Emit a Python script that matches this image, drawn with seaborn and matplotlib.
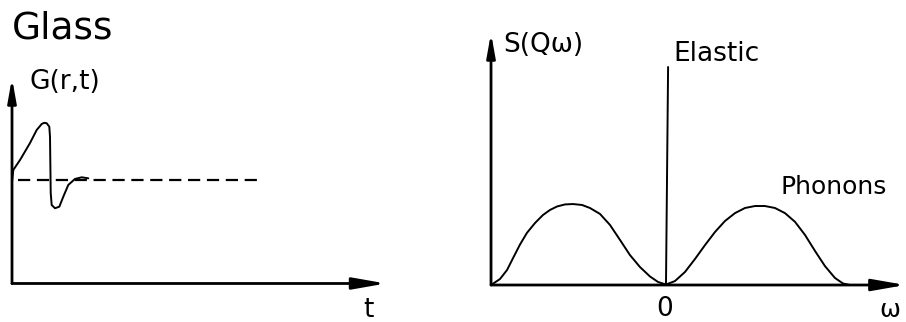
import numpy as np
import matplotlib
matplotlib.use("Agg")
import matplotlib.pyplot as plt
import seaborn as sns

# ------------------------------------------------------
# Data
# ------------------------------------------------------
# Glass: pair correlation G(r,t) vs time t (baseline level = 1)
glass_t = [0.000, 0.035, 0.214, 0.481, 0.660, 0.794, 0.860, 0.928, 0.997,
           1.016, 1.024, 1.035, 1.061, 1.150, 1.265, 1.372, 1.505, 1.684,
           1.864, 2.040]
glass_G = [0.984, 1.097, 1.193, 1.357, 1.483, 1.541, 1.552, 1.548, 1.515,
           1.418, 1.193, 0.874, 0.758, 0.727, 0.742, 0.839, 0.952, 1.010,
           1.026, 1.016]
baseline_t = [0.16, 6.58]
baseline_G = [1.00, 1.00]

# S(Q, omega): two phonon bumps around the elastic line at omega = 0
omega = [-0.994, -0.943, -0.903, -0.869, -0.830, -0.790, -0.744, -0.699,
         -0.659, -0.619, -0.574, -0.528, -0.477, -0.432, -0.375, -0.318,
         -0.261, -0.205, -0.148, -0.091, -0.045, 0.000, 0.051, 0.108,
         0.165, 0.222, 0.278, 0.335, 0.392, 0.449, 0.506, 0.562, 0.619,
         0.676, 0.733, 0.790, 0.847, 0.903, 0.960, 1.006, 1.045]
S_qw = [0.000, 0.076, 0.190, 0.340, 0.510, 0.660, 0.785, 0.886,
        0.950, 0.994, 1.020, 1.025, 1.013, 0.975, 0.900, 0.760,
        0.570, 0.380, 0.228, 0.108, 0.038, 0.006, 0.050, 0.165,
        0.330, 0.506, 0.670, 0.810, 0.910, 0.975, 1.000, 1.000, 0.975,
        0.910, 0.800, 0.633, 0.430, 0.240, 0.089, 0.019, 0.000]
elastic_omega = [0.000, 0.012]
elastic_S = [0.00, 2.76]

# ------------------------------------------------------
# Figure
# ------------------------------------------------------
sns.set_theme(style="white")
plt.rcParams["font.family"] = ["DejaVu Sans"]
plt.rcParams["text.color"] = "black"

fig = plt.figure(figsize=(9.06, 3.22), dpi=100)
ax1 = fig.add_axes([0.01325, 0.1196, 0.4128, 0.6429])
ax2 = fig.add_axes([0.5408, 0.1149, 0.4585, 0.785])

ink = "black"
curve_lw = 1.4
axis_lw = 2.0


def draw_arrow(ax, start, end, hl, hw):
    ax.annotate("", xy=end, xytext=start,
                arrowprops=dict(arrowstyle=f"-|>,head_length={hl},head_width={hw}",
                                color=ink, lw=axis_lw, shrinkA=0, shrinkB=0,
                                mutation_scale=10),
                annotation_clip=False)


# ---- left panel: Glass G(r,t)
ax1.set_xlim(0, 10)
ax1.set_ylim(0, 2.0)
ax1.axis("off")
sns.lineplot(x=glass_t, y=glass_G, ax=ax1, color=ink, lw=curve_lw, sort=False)
sns.lineplot(x=baseline_t, y=baseline_G, ax=ax1, color=ink, lw=1.6,
             linestyle=(0, (5.5, 3)), sort=False)
draw_arrow(ax1, (0, 0), (0, 1.985), 1.4, 0.25)
draw_arrow(ax1, (0, 0), (10, 0), 2.0, 0.35)

ax1.text(0.0, 2.46, "Glass", fontsize=27, va="center", ha="left",
         color=ink, clip_on=False)
ax1.text(0.48, 1.95, "G(r,t)", fontsize=19, va="center", ha="left",
         color=ink, clip_on=False)
ax1.text(9.52, -0.256, "t", fontsize=19, va="center", ha="center",
         color=ink, clip_on=False)

# ---- right panel: S(Q, omega)
ax2.set_xlim(-1.0, 1.36)
ax2.set_ylim(0, 3.2)
ax2.axis("off")
sns.lineplot(x=omega, y=S_qw, ax=ax2, color=ink, lw=curve_lw, sort=False)
sns.lineplot(x=elastic_omega, y=elastic_S, ax=ax2, color=ink, lw=curve_lw, sort=False)
draw_arrow(ax2, (-0.994, 0), (-0.994, 3.19), 1.4, 0.25)
draw_arrow(ax2, (-0.994, 0), (1.36, 0), 2.0, 0.35)

ax2.text(-0.926, 3.04, "S(Qω)", fontsize=19, va="center", ha="left",
         color=ink, clip_on=False)
ax2.text(0.04, 2.92, "Elastic", fontsize=19, va="center", ha="left",
         color=ink, clip_on=False)
ax2.text(0.648, 1.24, "Phonons", fontsize=18, va="center", ha="left",
         color=ink, clip_on=False)
ax2.text(-0.006, -0.30, "0", fontsize=19, va="center", ha="center",
         color=ink, clip_on=False)
ax2.text(1.33, -0.32, "ω", fontsize=18, va="center", ha="right",
         color=ink, clip_on=False)

fig.savefig("out.png", dpi=100, facecolor="white")
plt.close(fig)
